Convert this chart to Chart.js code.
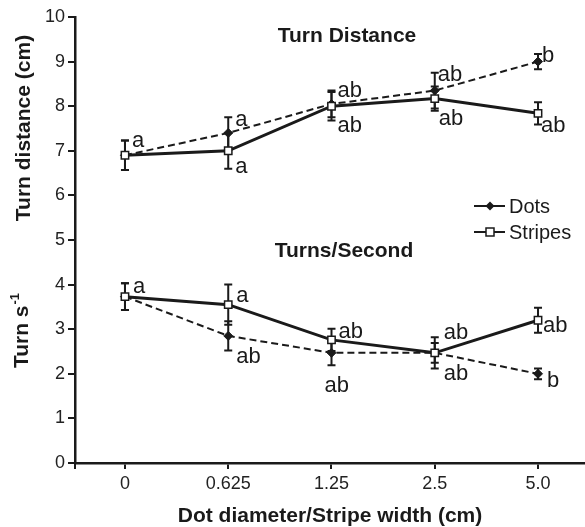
<!DOCTYPE html>
<html>
<head>
<meta charset="utf-8">
<script src="https://cdn.jsdelivr.net/npm/chart.js@4.4.1/dist/chart.umd.min.js"></script>
<style>
  html, body { margin: 0; padding: 0; background: #fff; }
  #wrap { width: 585px; height: 527px; }
</style>
</head>
<body>
<div id="wrap"><canvas id="chart" width="585" height="527"></canvas></div>
<script>
const categories = ['0', '0.625', '1.25', '2.5', '5.0'];
const yTicks = [0, 1, 2, 3, 4, 5, 6, 7, 8, 9, 10];

// turn distance (cm)
const distDots = [6.9, 7.4, 8.05, 8.35, 9.0];
const distStripes = [6.9, 7.0, 8.0, 8.17, 7.84];
const distDotsErr = [0.33, 0.35, 0.3, 0.4, 0.17];
const distStripesErr = [0.33, 0.4, 0.32, 0.27, 0.25];

// turns per second
const rateDots = [3.73, 2.85, 2.47, 2.47, 2.0];
const rateStripes = [3.73, 3.55, 2.76, 2.47, 3.2];
const rateDotsErr = [0.3, 0.33, 0.28, 0.22, 0.12];
const rateStripesErr = [0.3, 0.45, 0.25, 0.35, 0.28];

// significance letters
const distDotsLetters = ['a', 'a', 'ab', 'ab', 'b'];
const distStripesLetters = ['', 'a', 'ab', 'ab', 'ab'];
const rateDotsLetters = ['', 'ab', 'ab', 'ab', 'b'];
const rateStripesLetters = ['a', 'a', 'ab', 'ab', 'ab'];

const FONT = '"Liberation Sans", Arial, Helvetica, sans-serif';
const INK = '#1a1a1a';

// where each letter sits relative to its point (px)
const letterOffsets = [
  [[7, -8], [7, -7], [6, -7], [3, -10], [4, 0]],
  [null, [7, 22], [6, 26], [4, 26], [3, 19]],
  [null, [8, 27], [-7, 39], [9, 27], [9, 13]],
  [[8, -4], [8, -3], [7, -2], [9, -14], [5, 12]],
];

// categories sit at index positions on a linear axis
const toPoints = (vals) => vals.map((v, i) => ({ x: i, y: v }));

function dotsSet(data, err, letters) {
  return {
    data: toPoints(data), err, letters,
    borderColor: INK, backgroundColor: INK,
    borderWidth: 2, borderDash: [7, 4],
    pointStyle: 'rectRot', pointRadius: 4.5, pointBorderWidth: 1,
    pointBackgroundColor: INK, pointBorderColor: INK,
    tension: 0, order: 2,
  };
}
function stripesSet(data, err, letters) {
  return {
    data: toPoints(data), err, letters,
    borderColor: INK, backgroundColor: '#fff',
    borderWidth: 3,
    pointStyle: 'rect', pointRadius: 5.2, pointBorderWidth: 1.5,
    pointBackgroundColor: '#fff', pointBorderColor: INK,
    tension: 0, order: 1,
  };
}

const errorBars = {
  id: 'errorBars',
  beforeDatasetsDraw(chart) {
    const ctx = chart.ctx;
    const y = chart.scales.y;
    ctx.save();
    ctx.strokeStyle = INK;
    ctx.lineWidth = 2;
    chart.data.datasets.forEach((ds, i) => {
      const meta = chart.getDatasetMeta(i);
      meta.data.forEach((pt, j) => {
        const v = ds.data[j].y;
        const hi = y.getPixelForValue(v + ds.err[j]);
        const lo = y.getPixelForValue(v - ds.err[j]);
        ctx.beginPath();
        ctx.moveTo(pt.x, hi); ctx.lineTo(pt.x, lo);
        ctx.moveTo(pt.x - 4, hi); ctx.lineTo(pt.x + 4, hi);
        ctx.moveTo(pt.x - 4, lo); ctx.lineTo(pt.x + 4, lo);
        ctx.stroke();
      });
    });
    ctx.restore();
  }
};

const extras = {
  id: 'extras',
  afterDraw(chart) {
    const ctx = chart.ctx;
    const area = chart.chartArea;
    ctx.save();
    ctx.fillStyle = INK;

    // letters
    ctx.font = '22px ' + FONT;
    ctx.textAlign = 'left';
    ctx.textBaseline = 'alphabetic';
    chart.data.datasets.forEach((ds, i) => {
      const meta = chart.getDatasetMeta(i);
      meta.data.forEach((pt, j) => {
        const off = letterOffsets[i][j];
        if (!ds.letters[j] || !off) return;
        ctx.fillText(ds.letters[j], pt.x + off[0], pt.y + off[1]);
      });
    });

    // panel titles
    ctx.font = 'bold 21px ' + FONT;
    ctx.textAlign = 'center';
    ctx.fillText('Turn Distance', 347, 42);
    ctx.fillText('Turns/Second', 344, 257);

    // x title
    ctx.fillText('Dot diameter/Stripe width (cm)', 330, 522);

    // y titles
    ctx.save();
    ctx.translate(30, 128);
    ctx.rotate(-Math.PI / 2);
    ctx.fillText('Turn distance (cm)', 0, 0);
    ctx.restore();

    ctx.save();
    ctx.translate(28, 331);
    ctx.rotate(-Math.PI / 2);
    const main = 'Turn s';
    ctx.font = 'bold 21px ' + FONT;
    const w1 = ctx.measureText(main).width;
    ctx.font = 'bold 13px ' + FONT;
    const w2 = ctx.measureText('-1').width;
    const start = -(w1 + w2) / 2;
    ctx.textAlign = 'left';
    ctx.font = 'bold 21px ' + FONT;
    ctx.fillText(main, start, 0);
    ctx.font = 'bold 13px ' + FONT;
    ctx.fillText('-1', start + w1 + 1, -9);
    ctx.restore();

    // stub below the y axis
    ctx.strokeStyle = INK;
    ctx.lineWidth = 2;
    ctx.beginPath();
    ctx.moveTo(area.left, area.bottom);
    ctx.lineTo(area.left, area.bottom + 6);
    ctx.stroke();

    // legend
    const items = [
      { label: 'Dots', y: 206, style: 'rectRot' },
      { label: 'Stripes', y: 232, style: 'rect' },
    ];
    ctx.font = '20px ' + FONT;
    ctx.textAlign = 'left';
    ctx.textBaseline = 'middle';
    items.forEach(it => {
      ctx.strokeStyle = INK;
      ctx.lineWidth = 2;
      ctx.beginPath();
      ctx.moveTo(474, it.y); ctx.lineTo(505, it.y);
      ctx.stroke();
      if (it.style === 'rectRot') {
        ctx.fillStyle = INK;
        ctx.beginPath();
        ctx.moveTo(490, it.y - 4.5); ctx.lineTo(494.5, it.y);
        ctx.lineTo(490, it.y + 4.5); ctx.lineTo(485.5, it.y);
        ctx.closePath();
        ctx.fill();
      } else {
        ctx.fillStyle = '#fff';
        ctx.lineWidth = 1.5;
        ctx.fillRect(486, it.y - 4, 8, 8);
        ctx.strokeRect(486, it.y - 4, 8, 8);
      }
      ctx.fillStyle = INK;
      ctx.fillText(it.label, 509, it.y + 1);
    });

    ctx.restore();
  }
};

new Chart(document.getElementById('chart'), {
  type: 'line',
  data: {
    datasets: [
      dotsSet(distDots, distDotsErr, distDotsLetters),
      stripesSet(distStripes, distStripesErr, distStripesLetters),
      dotsSet(rateDots, rateDotsErr, rateDotsLetters),
      stripesSet(rateStripes, rateStripesErr, rateStripesLetters),
    ],
  },
  options: {
    responsive: false,
    animation: false,
    layout: { autoPadding: false, padding: { top: 17, right: 0, left: 0, bottom: 0 } },
    plugins: {
      legend: { display: false },
      tooltip: { enabled: false },
    },
    scales: {
      x: {
        type: 'linear',
        min: -0.484, max: 4.455,
        afterBuildTicks: (s) => { s.ticks = categories.map((c, i) => ({ value: i })); },
        grid: {
          drawOnChartArea: false, drawTicks: true,
          tickLength: 6, color: INK, lineWidth: 2,
        },
        border: { color: INK, width: 2.5 },
        ticks: {
          color: '#222', font: { size: 18, family: FONT }, padding: 4,
          callback: (v) => categories[v],
        },
        afterFit: (s) => { s.height = 64; s.paddingRight = 0; s.paddingLeft = 0; },
      },
      y: {
        min: 0, max: 10,
        afterBuildTicks: (s) => { s.ticks = yTicks.map(v => ({ value: v })); },
        grid: {
          drawOnChartArea: false, drawTicks: true,
          tickLength: 7, color: INK, lineWidth: 2,
        },
        border: { color: INK, width: 2.5 },
        ticks: { color: '#222', font: { size: 18, family: FONT }, padding: 3 },
        afterFit: (s) => { s.width = 75; },
      },
    },
  },
  plugins: [errorBars, extras],
});
</script>
</body>
</html>
